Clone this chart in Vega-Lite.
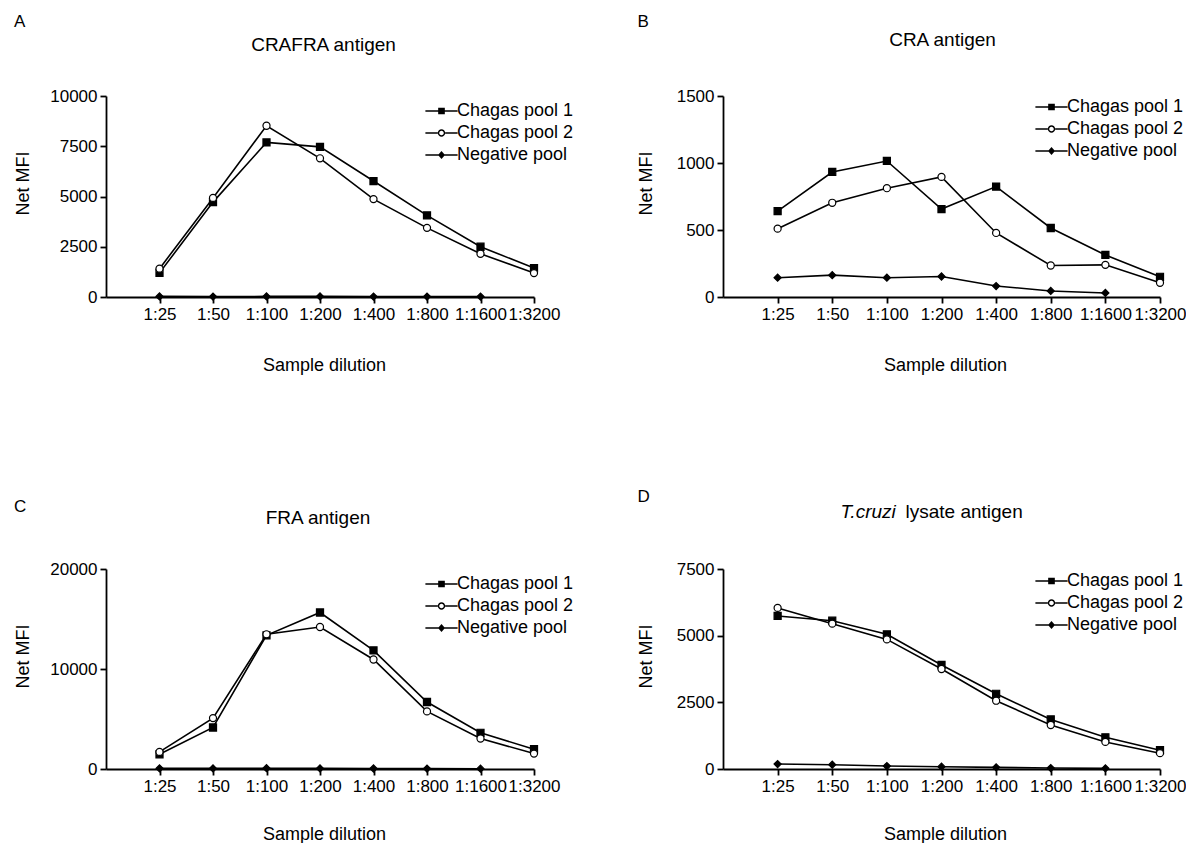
{
  "$schema": "https://vega.github.io/schema/vega-lite/v6.json",
  "background": "white",
  "padding": {"left": 14, "top": 13, "right": 0, "bottom": 0},
  "columns": 2,
  "spacing": {"column": 63, "row": 114},
  "resolve": {"scale": {"shape": "independent", "fill": "independent"}, "legend": {"shape": "independent", "fill": "independent"}},
  "datasets": {
    "A": [
      {"dilution": "1:25", "series": "Chagas pool 1", "mfi": 1200},
      {"dilution": "1:50", "series": "Chagas pool 1", "mfi": 4720},
      {"dilution": "1:100", "series": "Chagas pool 1", "mfi": 7690},
      {"dilution": "1:200", "series": "Chagas pool 1", "mfi": 7470},
      {"dilution": "1:400", "series": "Chagas pool 1", "mfi": 5770},
      {"dilution": "1:800", "series": "Chagas pool 1", "mfi": 4060},
      {"dilution": "1:1600", "series": "Chagas pool 1", "mfi": 2500},
      {"dilution": "1:3200", "series": "Chagas pool 1", "mfi": 1440},
      {"dilution": "1:25", "series": "Chagas pool 2", "mfi": 1410},
      {"dilution": "1:50", "series": "Chagas pool 2", "mfi": 4930},
      {"dilution": "1:100", "series": "Chagas pool 2", "mfi": 8520},
      {"dilution": "1:200", "series": "Chagas pool 2", "mfi": 6900},
      {"dilution": "1:400", "series": "Chagas pool 2", "mfi": 4870},
      {"dilution": "1:800", "series": "Chagas pool 2", "mfi": 3440},
      {"dilution": "1:1600", "series": "Chagas pool 2", "mfi": 2150},
      {"dilution": "1:3200", "series": "Chagas pool 2", "mfi": 1190},
      {"dilution": "1:25", "series": "Negative pool", "mfi": 30},
      {"dilution": "1:50", "series": "Negative pool", "mfi": 20},
      {"dilution": "1:100", "series": "Negative pool", "mfi": 30},
      {"dilution": "1:200", "series": "Negative pool", "mfi": 30},
      {"dilution": "1:400", "series": "Negative pool", "mfi": 20},
      {"dilution": "1:800", "series": "Negative pool", "mfi": 20},
      {"dilution": "1:1600", "series": "Negative pool", "mfi": 20}
    ],
    "B": [
      {"dilution": "1:25", "series": "Chagas pool 1", "mfi": 641},
      {"dilution": "1:50", "series": "Chagas pool 1", "mfi": 933},
      {"dilution": "1:100", "series": "Chagas pool 1", "mfi": 1015},
      {"dilution": "1:200", "series": "Chagas pool 1", "mfi": 656},
      {"dilution": "1:400", "series": "Chagas pool 1", "mfi": 824},
      {"dilution": "1:800", "series": "Chagas pool 1", "mfi": 515},
      {"dilution": "1:1600", "series": "Chagas pool 1", "mfi": 314},
      {"dilution": "1:3200", "series": "Chagas pool 1", "mfi": 151},
      {"dilution": "1:25", "series": "Chagas pool 2", "mfi": 510},
      {"dilution": "1:50", "series": "Chagas pool 2", "mfi": 703},
      {"dilution": "1:100", "series": "Chagas pool 2", "mfi": 812},
      {"dilution": "1:200", "series": "Chagas pool 2", "mfi": 896},
      {"dilution": "1:400", "series": "Chagas pool 2", "mfi": 478},
      {"dilution": "1:800", "series": "Chagas pool 2", "mfi": 235},
      {"dilution": "1:1600", "series": "Chagas pool 2", "mfi": 240},
      {"dilution": "1:3200", "series": "Chagas pool 2", "mfi": 106},
      {"dilution": "1:25", "series": "Negative pool", "mfi": 144},
      {"dilution": "1:50", "series": "Negative pool", "mfi": 163},
      {"dilution": "1:100", "series": "Negative pool", "mfi": 144},
      {"dilution": "1:200", "series": "Negative pool", "mfi": 153},
      {"dilution": "1:400", "series": "Negative pool", "mfi": 82},
      {"dilution": "1:800", "series": "Negative pool", "mfi": 45},
      {"dilution": "1:1600", "series": "Negative pool", "mfi": 30}
    ],
    "C": [
      {"dilution": "1:25", "series": "Chagas pool 1", "mfi": 1470},
      {"dilution": "1:50", "series": "Chagas pool 1", "mfi": 4150},
      {"dilution": "1:100", "series": "Chagas pool 1", "mfi": 13370},
      {"dilution": "1:200", "series": "Chagas pool 1", "mfi": 15650},
      {"dilution": "1:400", "series": "Chagas pool 1", "mfi": 11860},
      {"dilution": "1:800", "series": "Chagas pool 1", "mfi": 6700},
      {"dilution": "1:1600", "series": "Chagas pool 1", "mfi": 3620},
      {"dilution": "1:3200", "series": "Chagas pool 1", "mfi": 1980},
      {"dilution": "1:25", "series": "Chagas pool 2", "mfi": 1710},
      {"dilution": "1:50", "series": "Chagas pool 2", "mfi": 5090},
      {"dilution": "1:100", "series": "Chagas pool 2", "mfi": 13470},
      {"dilution": "1:200", "series": "Chagas pool 2", "mfi": 14200},
      {"dilution": "1:400", "series": "Chagas pool 2", "mfi": 10950},
      {"dilution": "1:800", "series": "Chagas pool 2", "mfi": 5760},
      {"dilution": "1:1600", "series": "Chagas pool 2", "mfi": 3050},
      {"dilution": "1:3200", "series": "Chagas pool 2", "mfi": 1540},
      {"dilution": "1:25", "series": "Negative pool", "mfi": 70},
      {"dilution": "1:50", "series": "Negative pool", "mfi": 60},
      {"dilution": "1:100", "series": "Negative pool", "mfi": 80},
      {"dilution": "1:200", "series": "Negative pool", "mfi": 60},
      {"dilution": "1:400", "series": "Negative pool", "mfi": 50},
      {"dilution": "1:800", "series": "Negative pool", "mfi": 40},
      {"dilution": "1:1600", "series": "Negative pool", "mfi": 30}
    ],
    "D": [
      {"dilution": "1:25", "series": "Chagas pool 1", "mfi": 5740},
      {"dilution": "1:50", "series": "Chagas pool 1", "mfi": 5560},
      {"dilution": "1:100", "series": "Chagas pool 1", "mfi": 5050},
      {"dilution": "1:200", "series": "Chagas pool 1", "mfi": 3900},
      {"dilution": "1:400", "series": "Chagas pool 1", "mfi": 2820},
      {"dilution": "1:800", "series": "Chagas pool 1", "mfi": 1860},
      {"dilution": "1:1600", "series": "Chagas pool 1", "mfi": 1190},
      {"dilution": "1:3200", "series": "Chagas pool 1", "mfi": 705},
      {"dilution": "1:25", "series": "Chagas pool 2", "mfi": 6040},
      {"dilution": "1:50", "series": "Chagas pool 2", "mfi": 5450},
      {"dilution": "1:100", "series": "Chagas pool 2", "mfi": 4860},
      {"dilution": "1:200", "series": "Chagas pool 2", "mfi": 3750},
      {"dilution": "1:400", "series": "Chagas pool 2", "mfi": 2560},
      {"dilution": "1:800", "series": "Chagas pool 2", "mfi": 1650},
      {"dilution": "1:1600", "series": "Chagas pool 2", "mfi": 1015},
      {"dilution": "1:3200", "series": "Chagas pool 2", "mfi": 594},
      {"dilution": "1:25", "series": "Negative pool", "mfi": 186},
      {"dilution": "1:50", "series": "Negative pool", "mfi": 161},
      {"dilution": "1:100", "series": "Negative pool", "mfi": 111},
      {"dilution": "1:200", "series": "Negative pool", "mfi": 87},
      {"dilution": "1:400", "series": "Negative pool", "mfi": 62},
      {"dilution": "1:800", "series": "Negative pool", "mfi": 37},
      {"dilution": "1:1600", "series": "Negative pool", "mfi": 25}
    ]
  },
  "concat": [
    {
      "title": {"text": "A", "offset": 4},
      "data": {"name": "A"},
      "width": 428, "height": 201,
      "encoding": {
        "y": {"field": "mfi", "type": "quantitative", "scale": {"domain": [0, 10000], "nice": false},
              "axis": {"title": "Net MFI", "values": [0, 2500, 5000, 7500, 10000], "format": "d", "titleX": -83, "titleY": 87, "titleBaseline": "middle", "titleAlign": "center", "titleAngle": -90}}
      },
      "layer": [
        {"mark": {"type": "line", "color": "black", "strokeWidth": 1.6},
         "encoding": {
           "x": {"field": "dilution", "type": "ordinal", "scale": {"type": "point", "padding": 0, "domain": ["", "1:25", "1:50", "1:100", "1:200", "1:400", "1:800", "1:1600", "1:3200"]},
                 "axis": {"orient": "bottom", "title": "Sample dilution", "values": ["1:25", "1:50", "1:100", "1:200", "1:400", "1:800", "1:1600", "1:3200"], "labelAngle": 0, "labelOverlap": false, "labelFlush": false, "labelBound": false, "titleX": 218, "titleY": 68, "titleBaseline": "middle", "titleAlign": "center"}},
           "detail": {"field": "series"},
           "order": {"value": null}
         }},
        {"mark": {"type": "point", "filled": true, "size": 50, "stroke": "black", "strokeWidth": 1.2, "opacity": 1},
         "encoding": {
           "x": {"field": "dilution", "type": "ordinal", "scale": {"type": "point", "padding": 0, "domain": ["", "1:25", "1:50", "1:100", "1:200", "1:400", "1:800", "1:1600", "1:3200"]},
                 "axis": {"orient": "top", "title": "CRAFRA antigen", "labels": false, "ticks": false, "domain": false, "titleFontSize": 19, "titleX": 217, "titleY": -52, "titleBaseline": "middle", "titleAlign": "center"}},
           "shape": {"field": "series", "type": "nominal", "scale": {"domain": ["Chagas pool 1", "Chagas pool 2", "Negative pool"], "range": ["square", "circle", "diamond"]}, "legend": null},
           "fill": {"field": "series", "type": "nominal", "scale": {"domain": ["Chagas pool 1", "Chagas pool 2", "Negative pool"], "range": ["black", "white", "black"]}, "legend": null}
         }},
        {"mark": {"type": "point", "filled": true, "color": "black", "opacity": 0},
         "encoding": {
           "x": {"field": "dilution", "type": "ordinal", "scale": {"type": "point", "padding": 0, "domain": ["", "1:25", "1:50", "1:100", "1:200", "1:400", "1:800", "1:1600", "1:3200"]}, "axis": null},
           "shape": {"field": "series", "type": "nominal",
                     "scale": {"domain": ["Chagas pool 1", "Chagas pool 2", "Negative pool"], "range": ["M-4.6,-0.22H4.6V0.22H-4.6Z M-0.95,-0.95H0.95V0.95H-0.95Z", "M-4.6,-0.22H-1.05V0.22H-4.6Z M1.05,-0.22H4.6V0.22H1.05Z M-1.05,0A1.05,1.05,0,1,1,1.05,0A1.05,1.05,0,1,1,-1.05,0Z M-0.65,0A0.65,0.65,0,1,0,0.65,0A0.65,0.65,0,1,0,-0.65,0Z", "M-4.6,-0.22H4.6V0.22H-4.6Z M0,-1.15L1,0L0,1.15L-1,0Z"]},
                     "legend": {"orient": "none", "legendX": 326.5, "legendY": 6, "symbolOpacity": 1}}
         }}
      ],
      "resolve": {"axis": {"x": "independent"}, "scale": {"shape": "independent"}}
    },
    {
      "title": {"text": "B", "offset": -1},
      "data": {"name": "B"},
      "width": 437, "height": 201,
      "encoding": {
        "y": {"field": "mfi", "type": "quantitative", "scale": {"domain": [0, 1500], "nice": false},
              "axis": {"title": "Net MFI", "values": [0, 500, 1000, 1500], "format": "d", "titleX": -76.5, "titleY": 87, "titleBaseline": "middle", "titleAlign": "center", "titleAngle": -90}}
      },
      "layer": [
        {"mark": {"type": "line", "color": "black", "strokeWidth": 1.6},
         "encoding": {
           "x": {"field": "dilution", "type": "ordinal", "scale": {"type": "point", "padding": 0, "domain": ["", "1:25", "1:50", "1:100", "1:200", "1:400", "1:800", "1:1600", "1:3200"]},
                 "axis": {"orient": "bottom", "title": "Sample dilution", "values": ["1:25", "1:50", "1:100", "1:200", "1:400", "1:800", "1:1600", "1:3200"], "labelAngle": 0, "labelOverlap": false, "labelFlush": false, "labelBound": false, "titleX": 222, "titleY": 68, "titleBaseline": "middle", "titleAlign": "center"}},
           "detail": {"field": "series"},
           "order": {"value": null}
         }},
        {"mark": {"type": "point", "filled": true, "size": 50, "stroke": "black", "strokeWidth": 1.2, "opacity": 1},
         "encoding": {
           "x": {"field": "dilution", "type": "ordinal", "scale": {"type": "point", "padding": 0, "domain": ["", "1:25", "1:50", "1:100", "1:200", "1:400", "1:800", "1:1600", "1:3200"]},
                 "axis": {"orient": "top", "title": "CRA antigen", "labels": false, "ticks": false, "domain": false, "titleFontSize": 19, "titleX": 219, "titleY": -57, "titleBaseline": "middle", "titleAlign": "center"}},
           "shape": {"field": "series", "type": "nominal", "scale": {"domain": ["Chagas pool 1", "Chagas pool 2", "Negative pool"], "range": ["square", "circle", "diamond"]}, "legend": null},
           "fill": {"field": "series", "type": "nominal", "scale": {"domain": ["Chagas pool 1", "Chagas pool 2", "Negative pool"], "range": ["black", "white", "black"]}, "legend": null}
         }},
        {"mark": {"type": "point", "filled": true, "color": "black", "opacity": 0},
         "encoding": {
           "x": {"field": "dilution", "type": "ordinal", "scale": {"type": "point", "padding": 0, "domain": ["", "1:25", "1:50", "1:100", "1:200", "1:400", "1:800", "1:1600", "1:3200"]}, "axis": null},
           "shape": {"field": "series", "type": "nominal",
                     "scale": {"domain": ["Chagas pool 1", "Chagas pool 2", "Negative pool"], "range": ["M-4.6,-0.22H4.6V0.22H-4.6Z M-0.95,-0.95H0.95V0.95H-0.95Z", "M-4.6,-0.22H-1.05V0.22H-4.6Z M1.05,-0.22H4.6V0.22H1.05Z M-1.05,0A1.05,1.05,0,1,1,1.05,0A1.05,1.05,0,1,1,-1.05,0Z M-0.65,0A0.65,0.65,0,1,0,0.65,0A0.65,0.65,0,1,0,-0.65,0Z", "M-4.6,-0.22H4.6V0.22H-4.6Z M0,-1.15L1,0L0,1.15L-1,0Z"]},
                     "legend": {"orient": "none", "legendX": 319.5, "legendY": 2, "symbolOpacity": 1}}
         }}
      ],
      "resolve": {"axis": {"x": "independent"}, "scale": {"shape": "independent"}}
    },
    {
      "title": {"text": "C", "offset": -8},
      "data": {"name": "C"},
      "width": 428, "height": 200,
      "encoding": {
        "y": {"field": "mfi", "type": "quantitative", "scale": {"domain": [0, 20000], "nice": false},
              "axis": {"title": "Net MFI", "values": [0, 10000, 20000], "format": "d", "titleX": -83, "titleY": 87, "titleBaseline": "middle", "titleAlign": "center", "titleAngle": -90}}
      },
      "layer": [
        {"mark": {"type": "line", "color": "black", "strokeWidth": 1.6},
         "encoding": {
           "x": {"field": "dilution", "type": "ordinal", "scale": {"type": "point", "padding": 0, "domain": ["", "1:25", "1:50", "1:100", "1:200", "1:400", "1:800", "1:1600", "1:3200"]},
                 "axis": {"orient": "bottom", "title": "Sample dilution", "values": ["1:25", "1:50", "1:100", "1:200", "1:400", "1:800", "1:1600", "1:3200"], "labelAngle": 0, "labelOverlap": false, "labelFlush": false, "labelBound": false, "titleX": 218, "titleY": 65, "titleBaseline": "middle", "titleAlign": "center"}},
           "detail": {"field": "series"},
           "order": {"value": null}
         }},
        {"mark": {"type": "point", "filled": true, "size": 50, "stroke": "black", "strokeWidth": 1.2, "opacity": 1},
         "encoding": {
           "x": {"field": "dilution", "type": "ordinal", "scale": {"type": "point", "padding": 0, "domain": ["", "1:25", "1:50", "1:100", "1:200", "1:400", "1:800", "1:1600", "1:3200"]},
                 "axis": {"orient": "top", "title": "FRA antigen", "labels": false, "ticks": false, "domain": false, "titleFontSize": 19, "titleX": 211.5, "titleY": -52, "titleBaseline": "middle", "titleAlign": "center"}},
           "shape": {"field": "series", "type": "nominal", "scale": {"domain": ["Chagas pool 1", "Chagas pool 2", "Negative pool"], "range": ["square", "circle", "diamond"]}, "legend": null},
           "fill": {"field": "series", "type": "nominal", "scale": {"domain": ["Chagas pool 1", "Chagas pool 2", "Negative pool"], "range": ["black", "white", "black"]}, "legend": null}
         }},
        {"mark": {"type": "point", "filled": true, "color": "black", "opacity": 0},
         "encoding": {
           "x": {"field": "dilution", "type": "ordinal", "scale": {"type": "point", "padding": 0, "domain": ["", "1:25", "1:50", "1:100", "1:200", "1:400", "1:800", "1:1600", "1:3200"]}, "axis": null},
           "shape": {"field": "series", "type": "nominal",
                     "scale": {"domain": ["Chagas pool 1", "Chagas pool 2", "Negative pool"], "range": ["M-4.6,-0.22H4.6V0.22H-4.6Z M-0.95,-0.95H0.95V0.95H-0.95Z", "M-4.6,-0.22H-1.05V0.22H-4.6Z M1.05,-0.22H4.6V0.22H1.05Z M-1.05,0A1.05,1.05,0,1,1,1.05,0A1.05,1.05,0,1,1,-1.05,0Z M-0.65,0A0.65,0.65,0,1,0,0.65,0A0.65,0.65,0,1,0,-0.65,0Z", "M-4.6,-0.22H4.6V0.22H-4.6Z M0,-1.15L1,0L0,1.15L-1,0Z"]},
                     "legend": {"orient": "none", "legendX": 326.5, "legendY": 6, "symbolOpacity": 1}}
         }}
      ],
      "resolve": {"axis": {"x": "independent"}, "scale": {"shape": "independent"}}
    },
    {
      "title": {"text": "D", "offset": -4},
      "data": {"name": "D"},
      "width": 437, "height": 200,
      "encoding": {
        "y": {"field": "mfi", "type": "quantitative", "scale": {"domain": [0, 7500], "nice": false},
              "axis": {"title": "Net MFI", "values": [0, 2500, 5000, 7500], "format": "d", "titleX": -76.5, "titleY": 87, "titleBaseline": "middle", "titleAlign": "center", "titleAngle": -90}}
      },
      "layer": [
        {"mark": {"type": "line", "color": "black", "strokeWidth": 1.6},
         "encoding": {
           "x": {"field": "dilution", "type": "ordinal", "scale": {"type": "point", "padding": 0, "domain": ["", "1:25", "1:50", "1:100", "1:200", "1:400", "1:800", "1:1600", "1:3200"]},
                 "axis": {"orient": "bottom", "title": "Sample dilution", "values": ["1:25", "1:50", "1:100", "1:200", "1:400", "1:800", "1:1600", "1:3200"], "labelAngle": 0, "labelOverlap": false, "labelFlush": false, "labelBound": false, "titleX": 222, "titleY": 65, "titleBaseline": "middle", "titleAlign": "center"}},
           "detail": {"field": "series"},
           "order": {"value": null}
         }},
        {"mark": {"type": "point", "filled": true, "size": 50, "stroke": "black", "strokeWidth": 1.2, "opacity": 1},
         "encoding": {
           "x": {"field": "dilution", "type": "ordinal", "scale": {"type": "point", "padding": 0, "domain": ["", "1:25", "1:50", "1:100", "1:200", "1:400", "1:800", "1:1600", "1:3200"]},
                 "axis": {"orient": "top", "title": "lysate antigen", "labels": false, "ticks": false, "domain": false, "titleFontSize": 19, "titleX": 182, "titleY": -58, "titleBaseline": "middle", "titleAlign": "left"}},
           "shape": {"field": "series", "type": "nominal", "scale": {"domain": ["Chagas pool 1", "Chagas pool 2", "Negative pool"], "range": ["square", "circle", "diamond"]}, "legend": null},
           "fill": {"field": "series", "type": "nominal", "scale": {"domain": ["Chagas pool 1", "Chagas pool 2", "Negative pool"], "range": ["black", "white", "black"]}, "legend": null}
         }},
        {"mark": {"type": "point", "filled": true, "color": "black", "opacity": 0},
         "encoding": {
           "x": {"field": "dilution", "type": "ordinal", "scale": {"type": "point", "padding": 0, "domain": ["", "1:25", "1:50", "1:100", "1:200", "1:400", "1:800", "1:1600", "1:3200"]},
                 "axis": {"orient": "top", "title": "T.cruzi", "labels": false, "ticks": false, "domain": false, "titleFontSize": 19, "titleFontStyle": "italic", "titleX": 117, "titleY": -58, "titleBaseline": "middle", "titleAlign": "left"}},
           "shape": {"field": "series", "type": "nominal",
                     "scale": {"domain": ["Chagas pool 1", "Chagas pool 2", "Negative pool"], "range": ["M-4.6,-0.22H4.6V0.22H-4.6Z M-0.95,-0.95H0.95V0.95H-0.95Z", "M-4.6,-0.22H-1.05V0.22H-4.6Z M1.05,-0.22H4.6V0.22H1.05Z M-1.05,0A1.05,1.05,0,1,1,1.05,0A1.05,1.05,0,1,1,-1.05,0Z M-0.65,0A0.65,0.65,0,1,0,0.65,0A0.65,0.65,0,1,0,-0.65,0Z", "M-4.6,-0.22H4.6V0.22H-4.6Z M0,-1.15L1,0L0,1.15L-1,0Z"]},
                     "legend": {"orient": "none", "legendX": 319.5, "legendY": 3, "symbolOpacity": 1}}
         }}
      ],
      "resolve": {"axis": {"x": "independent"}, "scale": {"shape": "independent"}}
    }
  ],
  "config": {
    "font": "Liberation Sans",
    "view": {"stroke": null},
    "axis": {"domainColor": "black", "domainWidth": 1.8, "tickColor": "black", "tickWidth": 1.8, "tickSize": 6, "labelFontSize": 17, "labelColor": "black", "labelPadding": 3, "titleFontSize": 18, "titleFontWeight": "normal", "titleColor": "black", "grid": false},
    "legend": {"title": null, "symbolSize": 49, "labelFontSize": 18, "labelColor": "black", "labelOffset": 6.5, "rowPadding": 4, "symbolStrokeWidth": 0, "symbolFillColor": "black", "symbolOpacity": 1},
    "title": {"fontSize": 17, "fontWeight": "normal", "color": "black", "anchor": "start", "frame": "bounds"}
  }
}
